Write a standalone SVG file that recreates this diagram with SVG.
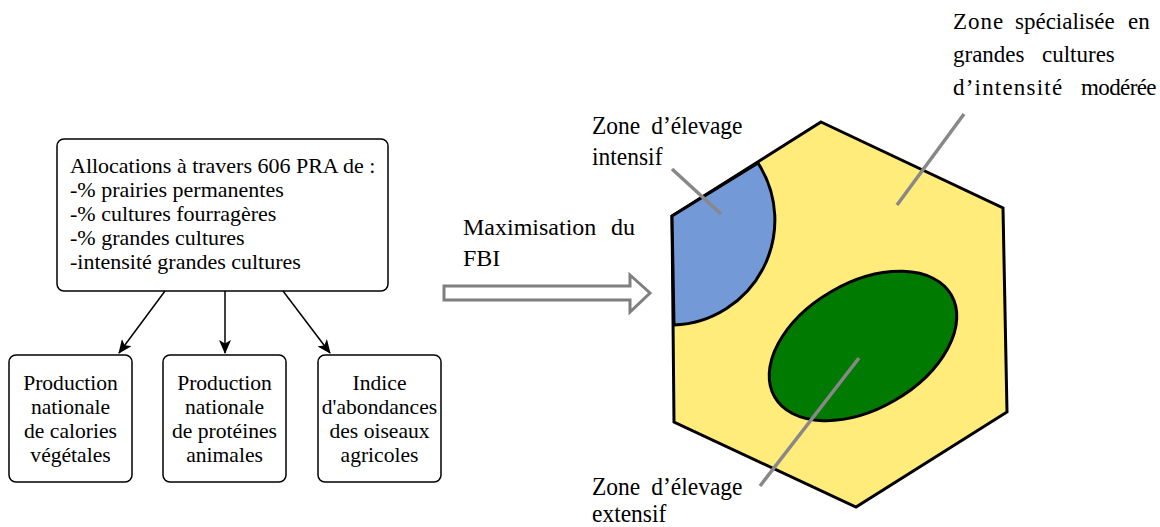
<svg xmlns="http://www.w3.org/2000/svg" width="1160" height="527" viewBox="0 0 1160 527">
<style>
text{font-family:"Liberation Serif","Times New Roman",serif;font-size:20px;fill:#000}
.c{text-anchor:middle}
.big{font-size:25px}
.med{font-size:23px}
.fbi{font-size:24px}
.box{fill:#fff;stroke:#000;stroke-width:1.5}
.arr{stroke:#000;stroke-width:1.5;fill:none;marker-end:url(#ah)}
.lead{stroke:#888;stroke-width:3.5;fill:none}
.zone{stroke:#000;stroke-width:3}
</style>
<defs>
<marker id="ah" viewBox="0 0 14 12" refX="13" refY="6" markerWidth="14" markerHeight="12" markerUnits="userSpaceOnUse" orient="auto">
<path d="M0,0 L14,6 L0,12 L3.5,6 Z" fill="#000"/>
</marker>
</defs>
<rect width="1160" height="527" fill="#fff"/>

<g id="allocations">
<rect class="box" x="57" y="139" width="331" height="152" rx="7"/>
<g transform="translate(70 0) scale(1.1 1)">
<text x="0" y="173">Allocations à travers 606 PRA de :</text>
<text x="0" y="197">-% prairies permanentes</text>
<text x="0" y="221">-% cultures fourragères</text>
<text x="0" y="245">-% grandes cultures</text>
<text x="0" y="269">-intensité grandes cultures</text>
</g>
</g>

<g id="calories">
<rect class="box" x="9" y="355" width="123" height="127" rx="7"/>
<g transform="translate(70.5 0) scale(1.08 1)">
<text class="c" x="0" y="390">Production</text>
<text class="c" x="0" y="414">nationale</text>
<text class="c" x="0" y="438">de calories</text>
<text class="c" x="0" y="462">végétales</text>
</g>
</g>

<g id="proteines">
<rect class="box" x="163" y="355" width="123" height="127" rx="7"/>
<g transform="translate(224.5 0) scale(1.08 1)">
<text class="c" x="0" y="390">Production</text>
<text class="c" x="0" y="414">nationale</text>
<text class="c" x="0" y="438">de protéines</text>
<text class="c" x="0" y="462">animales</text>
</g>
</g>

<g id="oiseaux">
<rect class="box" x="318" y="355" width="123" height="127" rx="7"/>
<g transform="translate(379.5 0) scale(1.08 1)">
<text class="c" x="0" y="390">Indice</text>
<text class="c" x="0" y="414">d'abondances</text>
<text class="c" x="0" y="438">des oiseaux</text>
<text class="c" x="0" y="462">agricoles</text>
</g>
</g>

<g id="fbi">
<text class="fbi" y="235"><tspan x="463">Maximisation</tspan> <tspan x="611">du</tspan></text>
<text class="fbi" x="463" y="266">FBI</text>
</g>

<g id="zones">
<polygon class="zone" fill="#FFEC7A" points="821,122 1003,208 1007,412 856,507 674,422 672,216"/>
<path class="zone" fill="#7399D6" d="M672,216 L758,163 A105,105 0 0 1 674,325 Z"/>
<ellipse class="zone" fill="#007A00" cx="863" cy="346" rx="102" ry="63" transform="rotate(-30 863 346)"/>
</g>

<g id="label-intensif" transform="translate(592 0) scale(0.94 1)">
<text class="big" y="134"><tspan x="0">Zone</tspan> <tspan x="63">d’élevage</tspan></text>
<text class="big" x="0" y="165">intensif</text>
</g>
<g id="label-grandes-cultures">
<text class="med" y="29"><tspan x="953" letter-spacing="1">Zone</tspan> <tspan x="1015">spécialisée</tspan> <tspan x="1128">en</tspan></text>
<text class="med" y="62"><tspan x="953">grandes</tspan> <tspan x="1042">cultures</tspan></text>
<text class="med" y="95"><tspan x="953" letter-spacing="1.2">d’intensité</tspan> <tspan x="1081" letter-spacing="-0.6">modérée</tspan></text>
</g>
<g id="label-extensif" transform="translate(592 0) scale(0.94 1)">
<text class="big" y="495"><tspan x="0">Zone</tspan> <tspan x="63">d’élevage</tspan></text>
<text class="big" x="0" y="522">extensif</text>
</g>

<g id="connectors">
<line class="arr" x1="165" y1="291" x2="119" y2="353"/>
<line class="arr" x1="225" y1="291" x2="225" y2="353"/>
<line class="arr" x1="283" y1="291" x2="330" y2="353"/>
<path d="M444,286 L630,286 L630,275 L650,293 L630,312 L630,300 L444,300 Z" fill="#fff" stroke="#7f7f7f" stroke-width="3" stroke-linejoin="miter"/>
<line class="lead" x1="964" y1="114" x2="897" y2="205"/>
<line class="lead" x1="672" y1="169" x2="721" y2="214"/>
<line class="lead" x1="859" y1="358" x2="760" y2="486"/>
</g>
</svg>
